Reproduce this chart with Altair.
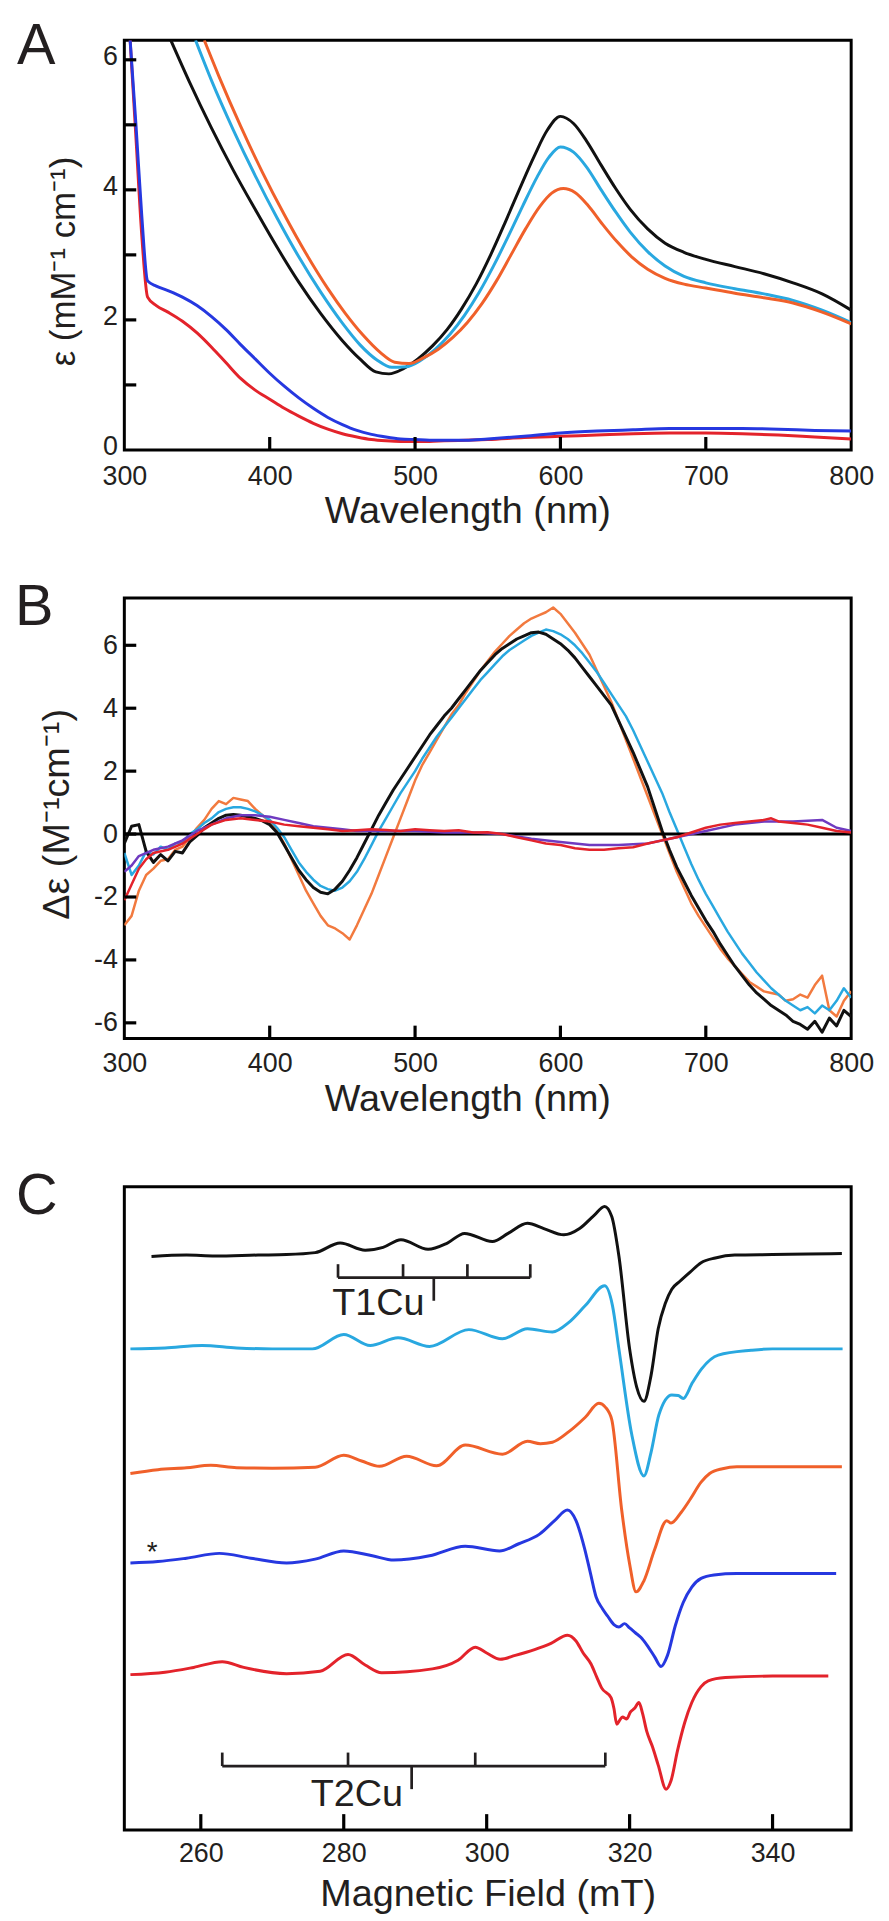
import altair as alt
import pandas as pd

FONT = "Liberation Sans"
TXT = "#231f20"
C_BLACK = "#111111"
C_SKY = "#29a8e0"
C_ORANGE = "#f0602a"
C_ORANGE_B = "#f27a3f"
C_BLUE = "#2638e0"
C_PURPLE = "#6f3ac0"
C_RED = "#e3232b"

panel_letters = ["A", "B", "C"]

# ---------------- Panel A : UV-vis ----------------
a_black_x = [332, 345, 360, 375, 390, 405, 420, 435, 450, 462, 473, 482, 492, 502, 512, 522, 532, 542, 552, 562,
             572, 582, 591, 600, 609, 618, 628, 638, 648, 660, 672, 685, 700, 720, 740, 760, 780, 800]
a_black_y = [6.3, 5.65, 4.95, 4.3, 3.7, 3.12, 2.58, 2.1, 1.68, 1.4, 1.2, 1.17, 1.25, 1.4, 1.6, 1.85, 2.17, 2.55, 3.0, 3.5,
             4.02, 4.52, 4.92, 5.13, 5.02, 4.75, 4.38, 4.02, 3.7, 3.4, 3.18, 3.04, 2.93, 2.82, 2.71, 2.57, 2.4, 2.15]
a_sky_x = [349, 360, 375, 390, 405, 420, 435, 450, 462, 474, 484, 494, 504, 514, 524, 534, 544, 554, 564, 574,
           584, 592, 600, 609, 618, 628, 638, 648, 660, 672, 685, 700, 720, 740, 760, 780, 800]
a_sky_y = [6.3, 5.68, 4.92, 4.22, 3.57, 2.97, 2.43, 1.95, 1.62, 1.38, 1.27, 1.28, 1.38, 1.55, 1.78, 2.07, 2.42, 2.83, 3.28, 3.75,
           4.2, 4.5, 4.66, 4.58, 4.35, 4.0, 3.66, 3.35, 3.05, 2.83, 2.67, 2.57, 2.48, 2.4, 2.3, 2.15, 1.96]
a_orange_x = [355, 365, 380, 395, 410, 425, 440, 452, 464, 476, 486, 496, 506, 516, 526, 536, 546, 556, 566, 576,
              586, 594, 602, 610, 619, 629, 639, 649, 660, 672, 685, 700, 720, 740, 760, 780, 800]
a_orange_y = [6.3, 5.75, 4.98, 4.27, 3.62, 3.02, 2.48, 2.1, 1.77, 1.5, 1.35, 1.33, 1.42, 1.55, 1.73, 1.96, 2.25, 2.6, 3.0, 3.4,
              3.75, 3.95, 4.02, 3.96, 3.76, 3.47, 3.2, 2.97, 2.78, 2.64, 2.55, 2.49, 2.41, 2.34, 2.26, 2.12, 1.94]
a_blue_x = [304, 308, 312, 316, 322, 330, 340, 350, 360, 370, 380, 390, 400, 410, 420, 430, 440, 450, 460, 470,
            480, 490, 500, 510, 520, 535, 550, 575, 600, 625, 650, 675, 700, 725, 750, 775, 800]
a_blue_y = [6.3, 5.0, 3.6, 2.6, 2.52, 2.45, 2.35, 2.22, 2.05, 1.85, 1.62, 1.4, 1.18, 0.98, 0.8, 0.64, 0.5, 0.39, 0.3, 0.24,
            0.2, 0.17, 0.16, 0.15, 0.15, 0.15, 0.17, 0.21, 0.26, 0.29, 0.31, 0.33, 0.33, 0.33, 0.32, 0.3, 0.29]
a_red_x = [304, 308, 312, 316, 322, 330, 340, 350, 360, 370, 380, 390, 400, 410, 420, 430, 440, 450, 460, 470,
           480, 490, 500, 510, 520, 535, 550, 575, 600, 625, 650, 675, 700, 725, 750, 775, 800]
a_red_y = [6.3, 4.8, 3.3, 2.35, 2.22, 2.12, 1.98, 1.8, 1.58, 1.34, 1.1, 0.92, 0.78, 0.64, 0.52, 0.41, 0.32, 0.25, 0.2, 0.16,
           0.14, 0.13, 0.13, 0.13, 0.14, 0.15, 0.16, 0.19, 0.21, 0.23, 0.25, 0.26, 0.26, 0.25, 0.23, 0.2, 0.17]
a_xlabels = [300, 400, 500, 600, 700, 800]
a_xticks = [400, 500, 600, 700]
a_ylabels = [0, 2, 4, 6]
a_yticks = [1, 2, 3, 4, 5, 6]

# ---------------- Panel B : CD ----------------
b_x = list(range(300, 805, 5))
b_black_y = [-0.3, 0.25, 0.3, -0.55, -0.9, -0.65, -0.85, -0.55, -0.6, -0.25,
             -0.05, 0.2, 0.35, 0.5, 0.6, 0.62, 0.6, 0.55, 0.5, 0.42,
             0.3, 0.05, -0.35, -0.75, -1.15, -1.45, -1.7, -1.85, -1.9, -1.75,
             -1.5, -1.15, -0.75, -0.3, 0.15, 0.6, 1.0, 1.4, 1.75, 2.1,
             2.45, 2.8, 3.15, 3.45, 3.75, 4.0, 4.3, 4.6, 4.9, 5.2,
             5.45, 5.7, 5.9, 6.05, 6.2, 6.3, 6.4, 6.42, 6.35, 6.2,
             6.05, 5.85, 5.6, 5.3, 5.0, 4.7, 4.4, 4.1, 3.6, 3.1,
             2.6, 2.05, 1.5, 0.8, 0.1, -0.5, -1.05, -1.5, -1.95, -2.35,
             -2.75, -3.1, -3.5, -3.85, -4.2, -4.5, -4.8, -5.05, -5.25, -5.45,
             -5.6, -5.75, -5.95, -6.05, -6.2, -5.95, -6.3, -5.85, -6.1, -5.6,
             -5.8]
b_sky_y = [-0.6, -1.3, -1.0, -0.55, -0.65, -0.4, -0.5, -0.3, -0.25, 0.0,
           0.15, 0.35, 0.5, 0.7, 0.8, 0.85, 0.85, 0.8, 0.72, 0.6,
           0.45, 0.2, -0.1, -0.5, -0.9, -1.2, -1.45, -1.65, -1.75, -1.8,
           -1.7, -1.5, -1.2, -0.8, -0.35, 0.1, 0.5, 0.9, 1.3, 1.65,
           2.0, 2.4, 2.75, 3.1, 3.4, 3.7, 4.0, 4.3, 4.6, 4.9,
           5.15, 5.4, 5.65, 5.85, 6.0, 6.15, 6.3, 6.4, 6.5, 6.45,
           6.35, 6.2, 6.0, 5.75, 5.45, 5.15, 4.8, 4.45, 4.1, 3.75,
           3.3, 2.8, 2.3, 1.8, 1.3, 0.7, 0.15, -0.4, -0.95, -1.45,
           -1.9, -2.3, -2.7, -3.1, -3.45, -3.8, -4.1, -4.4, -4.65, -4.9,
           -5.1, -5.3, -5.45, -5.6, -5.5, -5.7, -5.45, -5.6, -5.3, -4.9,
           -5.2]
b_orange_y = [-2.9, -2.6, -1.8, -1.3, -1.1, -0.85, -0.8, -0.5, -0.4, -0.1,
              0.2, 0.45, 0.8, 1.05, 0.95, 1.15, 1.1, 1.05, 0.8, 0.6,
              0.4, 0.1, -0.3, -0.8, -1.3, -1.8, -2.2, -2.6, -2.9, -3.0,
              -3.15, -3.35, -2.9, -2.4, -1.9, -1.3, -0.7, -0.1, 0.5, 1.1,
              1.7, 2.2, 2.6, 3.0, 3.4, 3.8, 4.1, 4.5, 4.85, 5.2,
              5.5, 5.8, 6.05, 6.3, 6.5, 6.7, 6.85, 6.95, 7.05, 7.2,
              7.0, 6.7, 6.4, 6.05, 5.7, 5.2, 4.7, 4.2, 3.6, 3.0,
              2.4, 1.8, 1.2, 0.6, 0.0, -0.6, -1.2, -1.7, -2.2, -2.6,
              -2.95, -3.3, -3.65, -3.95, -4.2, -4.45, -4.7, -4.85, -5.0, -5.05,
              -5.1, -5.3, -5.25, -5.1, -5.2, -4.8, -4.5, -5.6, -5.8, -5.3,
              -5.0]
b_red_x = [300, 305, 310, 315, 320, 330, 340, 350, 360, 370, 380, 390, 400, 410, 420, 430, 440, 450, 460, 470,
           480, 490, 500, 510, 520, 530, 540, 550, 560, 570, 580, 590, 600, 610, 620, 630, 640, 650, 660, 670,
           680, 690, 700, 710, 720, 730, 740, 745, 750, 760, 770, 780, 790, 800]
b_red_y = [-2.1, -1.6, -1.1, -0.8, -0.6, -0.5, -0.3, 0.0, 0.3, 0.45, 0.5, 0.45, 0.4, 0.3, 0.25, 0.2, 0.15, 0.1, 0.12, 0.15,
           0.13, 0.1, 0.15, 0.12, 0.1, 0.12, 0.05, 0.06, 0.0, -0.1, -0.2, -0.3, -0.35, -0.45, -0.5, -0.5, -0.45, -0.42, -0.3, -0.2,
           -0.1, 0.05, 0.2, 0.3, 0.35, 0.4, 0.45, 0.5, 0.4, 0.35, 0.3, 0.2, 0.1, 0.05]
b_purple_x = [300, 305, 310, 320, 330, 340, 350, 360, 370, 380, 390, 400, 410, 420, 430, 440, 450, 460, 480, 500,
              520, 540, 560, 580, 600, 620, 640, 660, 680, 700, 720, 740, 760, 780, 790, 800]
b_purple_y = [-1.2, -1.0, -0.7, -0.5, -0.4, -0.2, 0.1, 0.3, 0.5, 0.6, 0.6, 0.55, 0.45, 0.35, 0.25, 0.2, 0.15, 0.1, 0.1, 0.1,
              0.05, 0.05, 0.0, -0.15, -0.25, -0.35, -0.35, -0.3, -0.1, 0.1, 0.3, 0.4, 0.4, 0.45, 0.2, 0.1]
b_zero = [0]
b_xlabels = [300, 400, 500, 600, 700, 800]
b_xticks = [400, 500, 600, 700]
b_ylabels = [-6, -4, -2, 0, 2, 4, 6]

# ---------------- Panel C : EPR (signal relative to each trace's baseline) ----------------
c_offsets = {"black": 1195, "sky": 1000, "orange": 753, "blue": 555, "red": 323}
c_black = [(253.1, -3), (258, 0), (262, -2), (268, 0), (272, 1), (276, 5), (279.5, 25), (283, 10), (285.5, 16),
           (288, 32), (291.8, 12), (294.5, 25), (296.9, 45), (300.8, 28), (303, 45), (305.7, 66), (308, 55),
           (310.8, 42), (313, 55), (315, 82), (316.5, 101), (317.5, 80), (318.5, -2), (320, -195), (321, -275),
           (322, -304), (323, -250), (324, -153), (325, -100), (325.9, -71), (327, -55), (328.5, -35), (330, -16),
           (332, -6), (334.7, 0), (340, 1), (345, 2), (349.7, 3)]
c_sky = [(250.15, 0), (255, 2), (260.2, 7), (265, 2), (270, 0), (275.6, 0), (280, 30), (283.7, 7), (287.6, 23),
         (292, 5), (297.5, 40), (302.2, 21), (305.7, 42), (309.2, 35), (311.5, 55), (313.8, 90), (316.5, 131),
         (317.6, 90), (318.5, 0), (320.3, -178), (322.0, -264), (323, -215), (324.1, -137), (325.9, -96),
         (326.8, -97), (327.5, -103), (328.8, -70), (330.1, -41), (332.4, -13), (337, -3), (340, 0), (349.8, 0)]
c_orange = [(250.15, -12), (254, -4), (258, 0), (261.4, 5), (265, 0), (270, -1), (276, 1), (280, 26), (282.5, 14),
            (285, 3), (288.8, 24), (293, 4), (297, 47), (302.2, 28), (305.7, 55), (307.5, 50), (309.2, 53),
            (311.5, 75), (313.8, 105), (315.7, 134), (316.6, 126), (317.5, 100), (318.9, -89), (320.0, -200),
            (320.9, -258), (322, -235), (323.5, -170), (325.2, -110), (325.8, -115), (327.2, -93), (328.5, -65),
            (330, -30), (331.2, -12), (333, -2), (335, 2), (340, 2), (349.7, 2)]
c_blue = [(250.15, 0), (254, 3), (258, 10), (262.6, 20), (267, 10), (272, 0), (276, 8), (280, 25), (284, 15),
          (287, 6), (292, 15), (297, 35), (301.8, 25), (304.5, 40), (307.4, 60), (309.5, 88), (311.3, 110),
          (312.5, 88), (313.7, 30), (314.5, -20), (315.3, -70), (316.2, -95), (316.9, -110), (317.8, -128),
          (318.5, -133), (319.3, -126), (320.0, -135), (320.8, -145), (321.6, -155), (322.4, -170), (323.5, -195),
          (324.4, -215), (325.3, -192), (326.4, -130), (327.5, -82), (328.7, -50), (330, -32), (331.8, -25),
          (335, -22), (340, -22), (348.9, -22)]
c_red = [(250.15, 0), (255, 5), (259, 15), (263, 27), (266, 15), (272, 2), (276.7, 7), (280.6, 42), (283, 20),
         (285.3, 4), (292.4, 12), (296, 30), (298.4, 57), (300, 45), (301.9, 32), (304, 40), (306.7, 52), (309, 65),
         (311.3, 82), (312.5, 70), (313.5, 45), (314.6, 22), (315.4, -5), (316.1, -28), (317.4, -48), (317.8, -70),
         (318.2, -103), (318.6, -95), (319, -88), (319.6, -92), (320.1, -78), (320.7, -70), (321.3, -58),
         (321.8, -80), (322.4, -118), (323.2, -150), (324, -188), (325.1, -238), (325.8, -220), (326.7, -158),
         (327.7, -100), (328.7, -58), (330, -25), (331, -13), (333.4, -6), (340, -3), (347.8, -3)]
c_xlabels = [260, 280, 300, 320, 340]
c_xticks = [260, 280, 300, 320, 340]
# hyperfine stick diagrams
t1_sticks = [279.2, 288.3, 297.3, 306.1]
t1_center = [292.6]
t1_level = 1148
t2_sticks = [263.0, 280.6, 298.4, 316.6]
t2_center = [289.5]
t2_level = 133
stick_up = 28
stick_down = 48
c_labels = [("T1Cu", 291.3, 1070), ("T2Cu", 288.3, 50)]
c_star = [("*", 253.2, 560)]

# ---------------- helpers ----------------
W = 731
HA, HB, HC = 412, 443, 647


def neg_fix():
    return "datum.value < 0 ? '-' + abs(datum.value) : '' + datum.value"


def line(xs, ys, color, sw, xsc, xax, ysc, yax, interp):
    df = pd.DataFrame({"x": list(xs), "y": list(ys)})
    return alt.Chart(df).mark_line(color=color, strokeWidth=sw, interpolate=interp, clip=True,
                                   strokeJoin="round").encode(
        x=alt.X("x:Q", scale=xsc, axis=xax), y=alt.Y("y:Q", scale=ysc, axis=yax))


def xticks(vals, ydom, H, L, xsc, xax, ysc, yax):
    # inward ticks: from the bottom of the y domain up by L pixels (converted with the scale's span)
    y0 = ydom[0]
    y1 = ydom[0] + L * (ydom[1] - ydom[0]) / H
    df = pd.DataFrame({"v": vals, "y0": [y0] * len(vals), "y1": [y1] * len(vals)})
    return alt.Chart(df).mark_rule(color="black", strokeWidth=3.2).encode(
        x=alt.X("v:Q", scale=xsc, axis=xax), y=alt.Y("y0:Q", scale=ysc, axis=yax), y2="y1:Q")


def yticks(vals, xdom, Wd, L, xsc, xax, ysc, yax):
    x0 = xdom[0]
    x1 = xdom[0] + L * (xdom[1] - xdom[0]) / Wd
    df = pd.DataFrame({"v": vals, "x0": [x0] * len(vals), "x1": [x1] * len(vals)})
    return alt.Chart(df).mark_rule(color="black", strokeWidth=3.2).encode(
        y=alt.Y("v:Q", scale=ysc, axis=yax), x=alt.X("x0:Q", scale=xsc, axis=xax), x2="x1:Q")


def letter(t, x, y):
    return alt.Chart(pd.DataFrame({"t": [t]})).mark_text(
        font=FONT, fontSize=58, align="left", baseline="alphabetic", color=TXT).encode(
        text="t:N", x=alt.value(x), y=alt.value(y))


# ---------------- Panel A ----------------
a_xdom, a_ydom = [300, 800], [0, 6.3]
a_xs = alt.Scale(domain=a_xdom, nice=False, zero=False)
a_ys = alt.Scale(domain=a_ydom, nice=False, zero=False)
a_xax = alt.Axis(title="Wavelength (nm)", values=a_xlabels, labelPadding=14, titleX=345, titleY=73,
                 titleBaseline="alphabetic", labelFlush=False)
a_yax = alt.Axis(title="ε (mM⁻¹ cm⁻¹)", values=a_ylabels, labelPadding=7, titleX=-50, titleY=222,
                 titleBaseline="alphabetic", labelFlush=False, titleFontSize=35, labelOffset=-3)
panel_a = alt.layer(
    line(a_red_x, a_red_y, C_RED, 3, a_xs, a_xax, a_ys, a_yax, "monotone"),
    line(a_blue_x, a_blue_y, C_BLUE, 3, a_xs, a_xax, a_ys, a_yax, "monotone"),
    line(a_black_x, a_black_y, C_BLACK, 3, a_xs, a_xax, a_ys, a_yax, "monotone"),
    line(a_sky_x, a_sky_y, C_SKY, 3, a_xs, a_xax, a_ys, a_yax, "monotone"),
    line(a_orange_x, a_orange_y, C_ORANGE, 3, a_xs, a_xax, a_ys, a_yax, "monotone"),
    xticks(a_xticks, a_ydom, HA, 13, a_xs, a_xax, a_ys, a_yax),
    yticks(a_yticks, a_xdom, W, 12, a_xs, a_xax, a_ys, a_yax),
    letter(panel_letters[0], -108, 24),
).properties(width=W, height=HA)

# ---------------- Panel B ----------------
b_xdom, b_ydom = [300, 800], [-6.5, 7.5]
b_xs = alt.Scale(domain=b_xdom, nice=False, zero=False)
b_ys = alt.Scale(domain=b_ydom, nice=False, zero=False)
b_xax = alt.Axis(title="Wavelength (nm)", values=b_xlabels, labelPadding=12, titleX=345, titleY=72,
                 titleBaseline="alphabetic", labelFlush=False)
b_yax = alt.Axis(title="Δε (M⁻¹cm⁻¹)", values=b_ylabels, labelPadding=7, titleX=-56, titleY=217,
                 titleBaseline="alphabetic", labelFlush=False, labelExpr=neg_fix())
zero_line = alt.Chart(pd.DataFrame({"y": b_zero})).mark_rule(color="black", strokeWidth=3).encode(
    y=alt.Y("y:Q", scale=b_ys, axis=b_yax), x=alt.value(0), x2=alt.value(W))
panel_b = alt.layer(
    line(b_x, b_orange_y, C_ORANGE_B, 2.5, b_xs, b_xax, b_ys, b_yax, "linear"),
    line(b_x, b_sky_y, C_SKY, 2.5, b_xs, b_xax, b_ys, b_yax, "linear"),
    line(b_x, b_black_y, C_BLACK, 3, b_xs, b_xax, b_ys, b_yax, "linear"),
    zero_line,
    line(b_purple_x, b_purple_y, C_PURPLE, 2.5, b_xs, b_xax, b_ys, b_yax, "linear"),
    line(b_red_x, b_red_y, C_RED, 2.5, b_xs, b_xax, b_ys, b_yax, "linear"),
    xticks(b_xticks, b_ydom, HB, 13, b_xs, b_xax, b_ys, b_yax),
    yticks(b_ylabels, b_xdom, W, 12, b_xs, b_xax, b_ys, b_yax),
    letter(panel_letters[1], -110, 27),
).properties(width=W, height=HB)

# ---------------- Panel C ----------------
c_xdom, c_ydom = [249.3, 351], [0, 1337]
c_xs = alt.Scale(domain=c_xdom, nice=False, zero=False)
c_ys = alt.Scale(domain=c_ydom, nice=False, zero=False)
c_xax = alt.Axis(title="Magnetic Field (mT)", values=c_xlabels, labelPadding=11, titleY=76,
                 titleBaseline="alphabetic", labelFlush=False)


def trace(pairs, key, color):
    xs = [p[0] for p in pairs]
    ys = [c_offsets[key] + p[1] for p in pairs]
    return line(xs, ys, color, 3, c_xs, c_xax, c_ys, None, "monotone")


def sticks(pos, center, level):
    horiz = alt.Chart(pd.DataFrame({"x": [min(pos)], "x2": [max(pos)], "y": [level]})).mark_rule(
        color=TXT, strokeWidth=2.7).encode(
        x=alt.X("x:Q", scale=c_xs, axis=c_xax), x2="x2:Q", y=alt.Y("y:Q", scale=c_ys, axis=None))
    ups = alt.Chart(pd.DataFrame({"x": pos, "y": [level] * len(pos), "y2": [level + stick_up] * len(pos)})).mark_rule(
        color=TXT, strokeWidth=2.7).encode(
        x=alt.X("x:Q", scale=c_xs, axis=c_xax), y=alt.Y("y:Q", scale=c_ys, axis=None), y2="y2:Q")
    down = alt.Chart(pd.DataFrame({"x": center, "y": [level], "y2": [level - stick_down]})).mark_rule(
        color=TXT, strokeWidth=2.7).encode(
        x=alt.X("x:Q", scale=c_xs, axis=c_xax), y=alt.Y("y:Q", scale=c_ys, axis=None), y2="y2:Q")
    return [horiz, ups, down]


lab_df = pd.DataFrame(c_labels, columns=["t", "x", "y"])
star_df = pd.DataFrame(c_star, columns=["t", "x", "y"])
c_text = alt.Chart(lab_df).mark_text(font=FONT, fontSize=38, align="right", baseline="alphabetic",
                                     color=TXT).encode(
    x=alt.X("x:Q", scale=c_xs, axis=c_xax), y=alt.Y("y:Q", scale=c_ys, axis=None), text="t:N")
c_startxt = alt.Chart(star_df).mark_text(font=FONT, fontSize=28, align="center", baseline="alphabetic",
                                         color=TXT).encode(
    x=alt.X("x:Q", scale=c_xs, axis=c_xax), y=alt.Y("y:Q", scale=c_ys, axis=None), text="t:N")

panel_c = alt.layer(
    trace(c_red, "red", C_RED),
    trace(c_blue, "blue", C_BLUE),
    trace(c_orange, "orange", C_ORANGE),
    trace(c_sky, "sky", C_SKY),
    trace(c_black, "black", C_BLACK),
    *sticks(t1_sticks, t1_center, t1_level),
    *sticks(t2_sticks, t2_center, t2_level),
    c_text,
    c_startxt,
    xticks(c_xticks, c_ydom, HC, 16, c_xs, c_xax, c_ys, None),
    letter(panel_letters[2], -109, 27),
).properties(width=W, height=HC)

chart = alt.vconcat(panel_a, panel_b, panel_c, spacing=149, bounds="flush").properties(
    padding={"left": 5, "top": 3, "right": 5, "bottom": 0},
    background="white",
).configure_view(
    stroke="black", strokeWidth=3
).configure_axis(
    domain=False, ticks=False, tickSize=0, grid=False,
    labelFont=FONT, labelFontSize=27, labelColor=TXT,
    titleFont=FONT, titleFontSize=38, titleFontWeight="normal", titleColor=TXT,
    labelOverlap=False,
)

chart.save("out.html", embed_options={"renderer": "svg", "actions": False})
